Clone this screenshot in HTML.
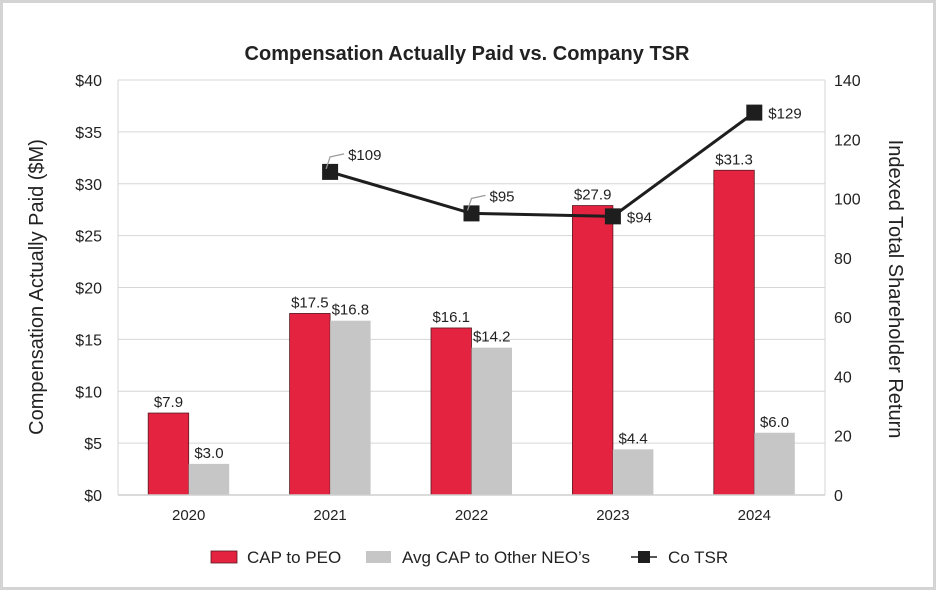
<!DOCTYPE html>
<html><head><meta charset="utf-8"><style>
html,body{margin:0;padding:0;background:#fff}
#frame{position:absolute;left:0;top:0;width:930px;height:584px;border:3px solid #d4d4d4;background:#fff}
svg{position:absolute;left:0;top:0}
text{font-family:"Liberation Sans",sans-serif;fill:#222}
</style></head><body>
<div id="frame"></div>
<svg id="chart" width="936" height="590"></svg>
<script>
const categories=["2020","2021","2022","2023","2024"];
const peoValues=[7.9,17.5,16.1,27.9,31.3];
const neoValues=[3.0,16.8,14.2,4.4,6.0];
const tsrValues=[null,109,95,94,129];
const leftTicks=[0,5,10,15,20,25,30,35,40];
const rightTicks=[0,20,40,60,80,100,120,140];

const NS="http://www.w3.org/2000/svg";
const svg=document.getElementById('chart');
const L=118,R=825,T=80,B=495;
const bw=(R-L)/categories.length;
const xc=i=>L+bw*(i+0.5);
const yL=v=>B-(v/40)*(B-T);
const yR=v=>B-(v/140)*(B-T);
const barW=40.5;
function el(tag,attrs,parent){const e=document.createElementNS(NS,tag);for(const k in attrs)e.setAttribute(k,attrs[k]);(parent||svg).appendChild(e);return e;}
function txt(s,attrs){const e=el('text',attrs);e.textContent=s;return e;}

const t=txt('Compensation Actually Paid vs. Company TSR',{x:467,y:60,'text-anchor':'middle','font-size':20,'font-weight':'bold'});



leftTicks.forEach(v=>{
  const g=el('line',{x1:L,x2:R,y1:yL(v),y2:yL(v),stroke:'#d6d6d6','stroke-width':1});
  
  
  const lt=txt('$'+v,{x:102,y:yL(v)+6,'text-anchor':'end','font-size':16});
  
  
});
rightTicks.forEach(v=>{
  const rt=txt(String(v),{x:834,y:yR(v)+6,'font-size':16});
  
  
});
const la=el('line',{x1:L,x2:L,y1:T,y2:B,stroke:'#d6d6d6'});


const ra=el('line',{x1:R,x2:R,y1:T,y2:B,stroke:'#d6d6d6'});



const yt=txt('Compensation Actually Paid ($M)',{x:0,y:0,'text-anchor':'middle','font-size':20,transform:'translate(43,287) rotate(-90)'});


const yt2=txt('Indexed Total Shareholder Return',{x:0,y:0,'text-anchor':'middle','font-size':20,transform:'translate(889,289) rotate(90)'});



categories.forEach((c,i)=>{
  const x=xc(i);
  const r=el('rect',{x:x-barW,y:yL(peoValues[i]),width:barW,height:B-yL(peoValues[i]),fill:'#e3233f',stroke:'#5a1a22','stroke-width':0.8});
  
  
  const g=el('rect',{x:x,y:yL(neoValues[i]),width:barW,height:B-yL(neoValues[i]),fill:'#c6c6c6'});
  
  
  const pl=txt('$'+peoValues[i].toFixed(1),{x:x-barW/2,y:yL(peoValues[i])-6,'text-anchor':'middle','font-size':15});
  
  
  const nl=txt('$'+neoValues[i].toFixed(1),{x:x+barW/2,y:yL(neoValues[i])-6,'text-anchor':'middle','font-size':15});
  
  
  const cl=txt(c,{x:x,y:520,'text-anchor':'middle','font-size':15});
  
  
});
const xa=el('line',{x1:L,x2:R,y1:B,y2:B,stroke:'#cfcfcf','stroke-width':1.5});



let pts=[];
tsrValues.forEach((v,i)=>{if(v!==null)pts.push([xc(i),yR(v)]);});
const pl=el('polyline',{points:pts.map(p=>p.join(',')).join(' '),fill:'none',stroke:'#1e1e1e','stroke-width':3});


tsrValues.forEach((v,i)=>{
  if(v===null)return;
  const x=xc(i),y=yR(v);
  const m=el('rect',{x:x-8,y:y-8,width:16,height:16,fill:'#1e1e1e'});
  
  
  let lx,ly;
  if(i===1||i===2){
    const ld=el('polyline',{points:`${x-4},${y-3} ${x},${y-15} ${x+14},${y-18}`,fill:'none',stroke:'#999','stroke-width':1.2});
    
    
    lx=x+18;ly=y-12;
  } else {lx=x+14;ly=y+6;}
  const tl=txt('$'+v,{x:lx,y:ly,'font-size':15});
  
  
});

// legend
const lg=el('g',{});


const s1=el('rect',{x:211,y:551,width:26,height:12,fill:'#e3233f',stroke:'#5a1a22','stroke-width':0.8},lg);


const t1=txt('CAP to PEO',{x:247,y:563,'font-size':17});


const s2=el('rect',{x:366,y:551,width:25,height:12,fill:'#c6c6c6'},lg);


const t2=txt('Avg CAP to Other NEO\u2019s',{x:402,y:563,'font-size':17});


const s3=el('line',{x1:631,x2:657,y1:557,y2:557,stroke:'#1e1e1e','stroke-width':1.5},lg);


const s4=el('rect',{x:638,y:551,width:12,height:12,fill:'#1e1e1e'},lg);


const t3=txt('Co TSR',{x:668,y:563,'font-size':17});


</script>
</body></html>
